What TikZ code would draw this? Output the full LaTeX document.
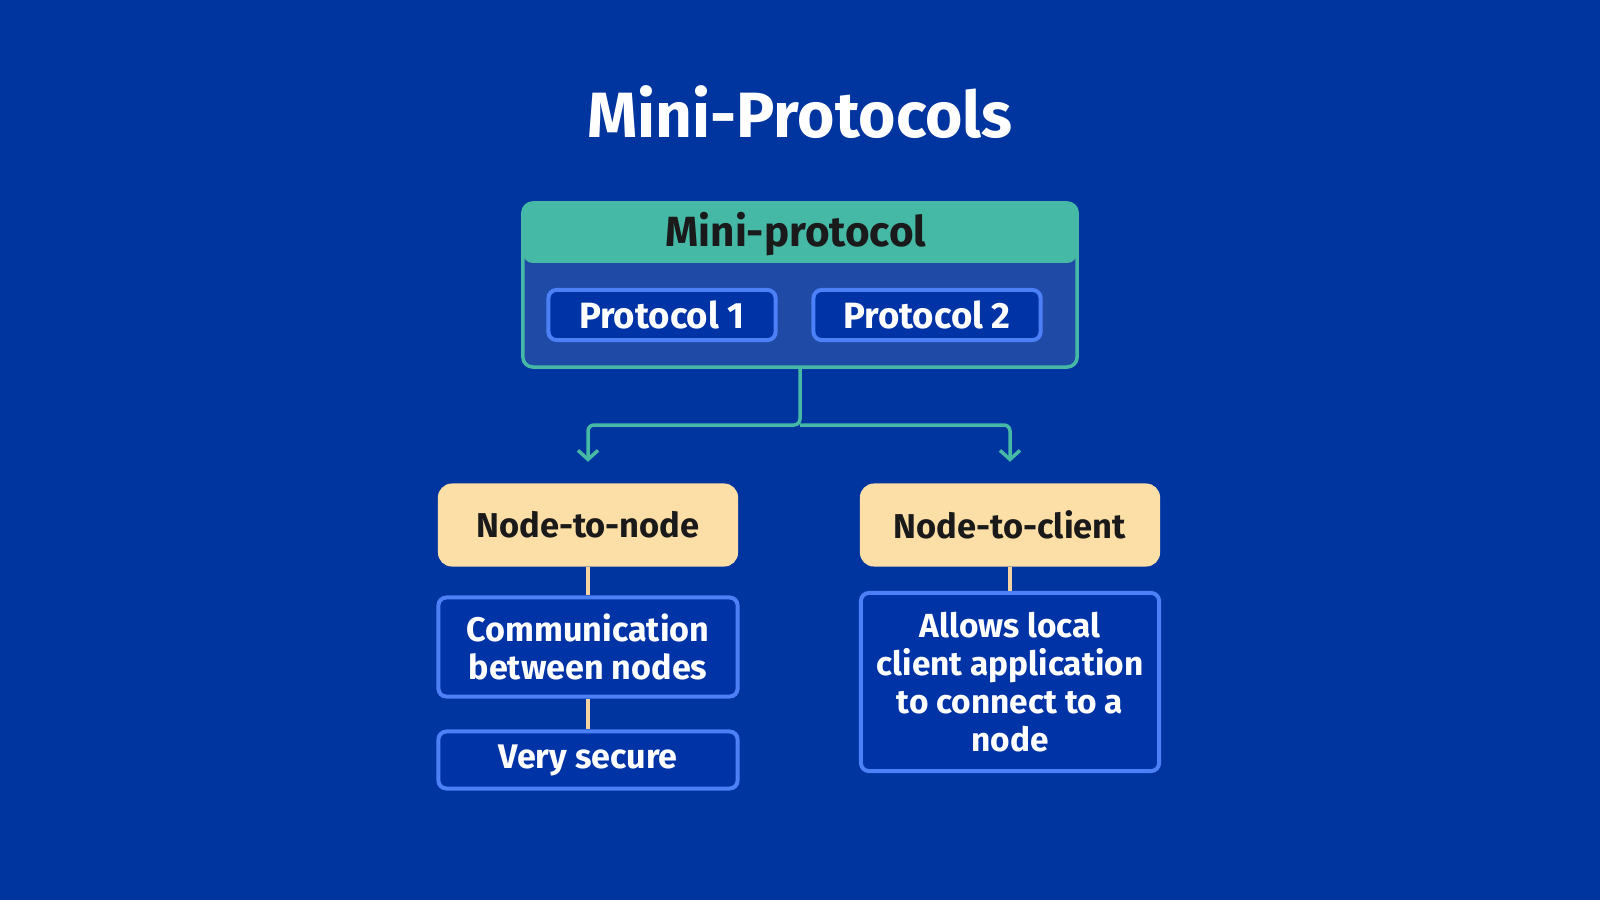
\documentclass[tikz,border=0pt]{standalone}
\usepackage{fontspec}
\setmainfont{Fira Sans}
\usetikzlibrary{arrows.meta,positioning}

\definecolor{bgblue}{HTML}{00349E}
\definecolor{panelblue}{HTML}{1F4AA6}
\definecolor{boxblue}{HTML}{0033A6}
\definecolor{edgeblue}{HTML}{4C80F6}
\definecolor{tealc}{HTML}{45B9A5}
\definecolor{peach}{HTML}{FCDFA6}
\definecolor{tanline}{HTML}{F4D3A1}
\definecolor{inkc}{HTML}{1A1A1A}

\begin{document}
\begin{tikzpicture}[x=0.01cm,y=-0.01cm,
	infobox/.style={draw=edgeblue, line width=0.04cm, fill=boxblue, rounded corners=0.08cm,
		text=white, align=center, inner sep=0pt, font=\bfseries\fontsize{9.7}{10.8}\selectfont},
	kindbox/.style={fill=peach, rounded corners=0.14cm, text=inkc, inner sep=0pt,
		minimum width=3.0cm, minimum height=0.83cm, font=\bfseries\fontsize{9.8}{12}\selectfont},
	tealarrow/.style={draw=tealc, line width=0.035cm, rounded corners=0.06cm,
		-{Straight Barb[length=0.09cm,width=0.2cm,line width=0.035cm]}},
	tanlink/.style={draw=tanline, line width=0.035cm}]

	\fill[bgblue] (0,0) rectangle (1600,900);
	\useasboundingbox (0,0) rectangle (1600,900);

	\node[text=white, font=\bfseries\fontsize{18.2}{20}\selectfont] (title) at (800,112) {Mini-Protocols};

	% mini-protocol panel
	\node[draw=tealc, line width=0.035cm, fill=panelblue, rounded corners=0.1cm,
		minimum width=5.54cm, minimum height=1.64cm, inner sep=0pt,
		path picture={\fill[tealc] (path picture bounding box.north west) rectangle
			([yshift=-0.6cm]path picture bounding box.north east);}] (mini) at (800,285) {};
	\node[text=inkc, font=\bfseries\fontsize{12}{14}\selectfont] (minititle) at (796,234) {Mini-protocol};
	\node[infobox, minimum width=2.27cm, minimum height=0.5cm, font=\bfseries\fontsize{10.4}{12}\selectfont] (p1) at (662,315) {Protocol 1};
	\node[infobox, minimum width=2.27cm, minimum height=0.5cm, font=\bfseries\fontsize{10.4}{12}\selectfont] (p2) at (927,315) {Protocol 2};

	\node[kindbox] (n2n) at (588,525) {Node-to-node};
	\node[kindbox] (n2c) at (1010,525) {Node-to-client};

	\coordinate (split) at (800,425);
	\draw[tealarrow] (mini.south) -- (split) -| ([yshift=0.21cm]n2n.north);
	\draw[tealarrow] (split) -| ([yshift=0.21cm]n2c.north);

	\node[infobox, minimum width=2.99cm, minimum height=0.99cm] (comm) at (588,647) {Communication\\between nodes};
	\node[infobox, minimum width=2.99cm, minimum height=0.57cm] (secure) at (588,760) {Very secure};
	\node[infobox, minimum width=2.98cm, minimum height=1.78cm, font=\bfseries\fontsize{9.5}{10.8}\selectfont] (allows) at (1010,682) {Allows local\\client application\\to connect to a\\node};

	\draw[tanlink] (n2n) -- (comm);
	\draw[tanlink] (comm) -- (secure);
	\draw[tanlink] (n2c) -- (allows);
\end{tikzpicture}
\end{document}
